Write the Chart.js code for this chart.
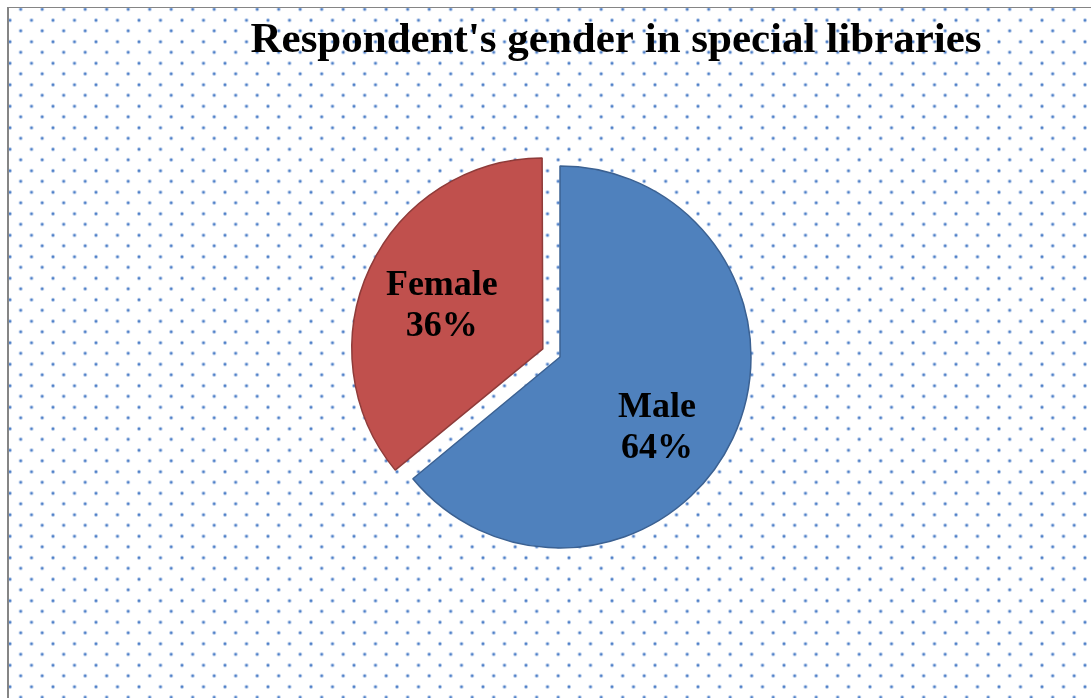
<!DOCTYPE html>
<html>
<head>
<meta charset="utf-8">
<script src="https://cdn.jsdelivr.net/npm/chart.js@4"></script>
<style>
    html, body {
        margin: 0;
        padding: 0;
        width: 1091px;
        height: 698px;
        overflow: hidden;
        background: #ffffff;
    }
    .frame {
        position: absolute;
        left: 7px;
        top: 7px;
        width: 1084px;
        height: 691px;
        box-sizing: border-box;
        border-top: 1px solid #858585;
        border-left: 2px solid #858585;
        background-origin: border-box;
        background-image:
            radial-gradient(circle, #4f80c8 0, #4f80c8 0.9px, rgba(79, 128, 200, 0.4) 1.6px, rgba(79, 128, 200, 0) 2.3px),
            radial-gradient(circle, #4f80c8 0, #4f80c8 0.9px, rgba(79, 128, 200, 0.4) 1.6px, rgba(79, 128, 200, 0) 2.3px);
        background-size: 21.5px 21.5px, 21.5px 21.5px;
        background-position: 2.95px -8.45px, -7.75px 2.55px;
    }
    .wrap {
        position: absolute;
        left: 0;
        top: 0;
        width: 1091px;
        height: 698px;
    }
</style>
</head>
<body>
<div class="frame"></div>
<div class="wrap"><canvas id="genderChart"></canvas></div>
<script>
const chartTitle = "Respondent's gender in special libraries";
const genders = ['Male', 'Female'];
const shares = [64, 36];
const sliceColors = ['#4f81bd', '#c0504d'];
const sliceBorders = ['#3b6192', '#8f3b39'];

// label placement inside each slice: fraction of radius and turn (degrees) from mid angle
const labelSpots = [
    { dist: 0.63, turn: 11 },
    { dist: 0.575, turn: -2 }
];

const serif = '"Liberation Serif", "Times New Roman", serif';

// chart.js grows an offset arc a little, keep the exploded slice the same size
const keepRadius = {
    id: 'keepRadius',
    afterDatasetsUpdate(chart) {
        chart.getDatasetMeta(0).data.forEach(function(arc) {
            const shift = (arc.options.offset || 0) / 4;
            if (shift) {
                const fix = 1 - Math.sin(Math.min(Math.PI, arc.circumference));
                arc.outerRadius -= shift * fix;
            }
        });
    }
};

const sliceLabels = {
    id: 'sliceLabels',
    afterDatasetsDraw(chart) {
        const ctx = chart.ctx;
        const meta = chart.getDatasetMeta(0);
        ctx.save();
        ctx.font = 'bold 36px ' + serif;
        ctx.fillStyle = '#000000';
        ctx.textAlign = 'center';
        ctx.textBaseline = 'middle';
        meta.data.forEach(function(arc, i) {
            const mid = (arc.startAngle + arc.endAngle) / 2;
            const shift = (arc.options.offset || 0) / 4;
            const cx = arc.x + Math.cos(mid) * shift;
            const cy = arc.y + Math.sin(mid) * shift;
            const spot = labelSpots[i];
            const ang = mid + spot.turn * Math.PI / 180;
            const x = cx + Math.cos(ang) * chart.options.radius * spot.dist;
            const y = cy + Math.sin(ang) * chart.options.radius * spot.dist;
            ctx.fillText(genders[i], x, y - 20);
            ctx.fillText(shares[i] + '%', x, y + 21);
        });
        ctx.restore();
    }
};

const titleText = {
    id: 'titleText',
    afterDraw(chart) {
        const ctx = chart.ctx;
        ctx.save();
        ctx.font = 'bold 43px ' + serif;
        ctx.fillStyle = '#000000';
        ctx.textAlign = 'center';
        ctx.textBaseline = 'alphabetic';
        ctx.fillText(chartTitle, 616, 52);
        ctx.restore();
    }
};

new Chart(document.getElementById('genderChart').getContext('2d'), {
    type: 'pie',
    data: {
        labels: genders,
        datasets: [{
            data: shares,
            backgroundColor: sliceColors,
            borderColor: sliceBorders,
            borderWidth: 1.5,
            offset: [0, 76]
        }]
    },
    options: {
        responsive: true,
        maintainAspectRatio: false,
        animation: false,
        radius: 191,
        layout: {
            padding: {
                left: 29,
                top: 16
            }
        },
        plugins: {
            legend: {
                display: false
            },
            tooltip: {
                enabled: false
            }
        }
    },
    plugins: [keepRadius, sliceLabels, titleText]
});
</script>
</body>
</html>
